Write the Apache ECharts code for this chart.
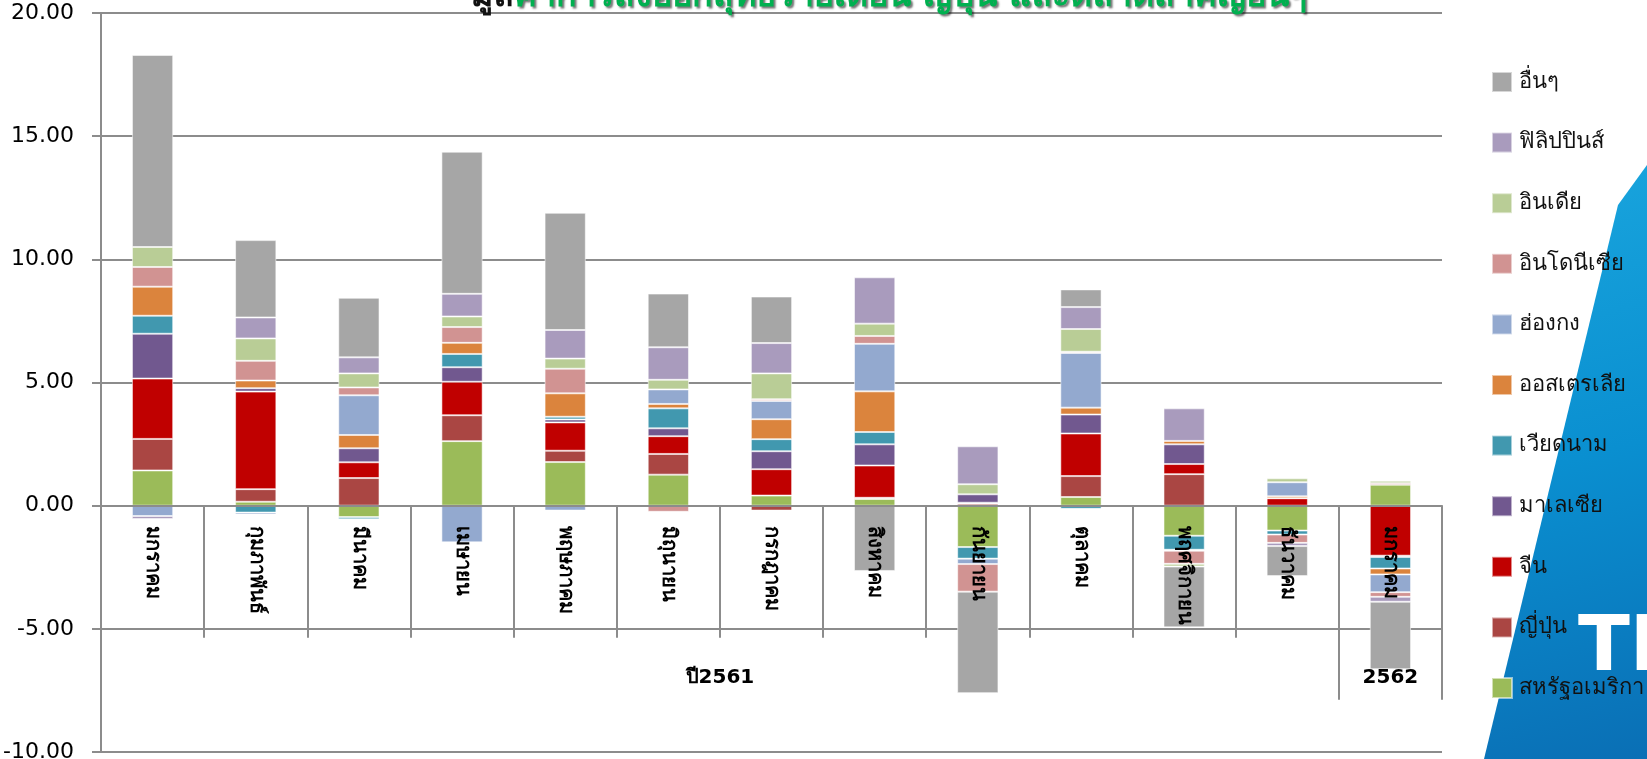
<!DOCTYPE html>
<html>
<head>
<meta charset="utf-8">
<script src="https://cdn.jsdelivr.net/npm/echarts@6/dist/echarts.min.js"></script>
<style>
html,body{margin:0;padding:0;background:#fff;}
#chart{width:1647px;height:759px;}
</style>
</head>
<body>
<div id="chart"></div>
<script>
// ---- data ----
const categories = ['มกราคม','กุมภาพันธ์','มีนาคม','เมษายน','พฤษภาคม','มิถุนายน','กรกฎาคม','สิงหาคม','กันยายน','ตุลาคม','พฤศจิกายน','ธันวาคม','มกราคม'];
const groupLabels = ['ปี2561', '2562'];
const groupSpans = [12, 1];
const yTicks = { min: -10, max: 20, interval: 5 };

const usa         = [1.43, 0.16, -0.46, 2.62, 1.77, 1.26, 0.41, 0.27, -1.68, 0.35, -1.22, -1.01, 0.85];
const japan       = [1.28, 0.51, 1.12, 1.05, 0.46, 0.84, -0.20, 0.05, 0.08, 0.85, 1.28, 0.00, 0.06];
const china       = [2.45, 3.96, 0.64, 1.36, 1.15, 0.72, 1.07, 1.31, 0.04, 1.73, 0.41, 0.30, -2.03];
const malaysia    = [1.82, 0.14, 0.57, 0.59, 0.12, 0.32, 0.73, 0.86, 0.34, 0.77, 0.80, 0.00, -0.05];
const vietnam     = [0.73, -0.28, -0.09, 0.54, 0.11, 0.81, 0.49, 0.50, -0.47, -0.13, -0.57, -0.16, -0.47];
const australia   = [1.18, 0.31, 0.54, 0.45, 0.95, 0.18, 0.81, 1.65, 0.00, 0.28, 0.14, 0.08, -0.24];
const hongkong    = [-0.42, -0.08, 1.61, -1.49, -0.20, 0.59, 0.74, 1.93, -0.22, 2.22, -0.04, 0.57, -0.72];
const indonesia   = [0.80, 0.80, 0.32, 0.64, 1.00, -0.25, 0.07, 0.32, -1.12, 0.05, -0.53, -0.34, -0.19];
const india       = [0.81, 0.91, 0.57, 0.43, 0.41, 0.39, 1.05, 0.50, 0.41, 0.92, -0.11, 0.16, 0.10];
const philippines = [-0.12, 0.85, 0.65, 0.92, 1.16, 1.32, 1.23, 1.88, 1.54, 0.89, 1.32, -0.13, -0.20];
const others      = [7.80, 3.14, 2.42, 5.77, 4.76, 2.18, 1.89, -2.65, -4.12, 0.72, -2.47, -1.22, -2.74];

const seriesNames = ['สหรัฐอเมริกา','ญี่ปุ่น','จีน','มาเลเซีย','เวียดนาม','ออสเตรเลีย','ฮ่องกง','อินโดนีเซีย','อินเดีย','ฟิลิปปินส์','อื่นๆ'];
const seriesData  = [usa, japan, china, malaysia, vietnam, australia, hongkong, indonesia, india, philippines, others];
const seriesColors = ['#9BBB59','#AA4643','#C00000','#71588F','#4198AF','#DB843D','#93A9CF','#D19392','#B9CD96','#A99BBD','#A6A6A6'];

// ---- chart ----
const W = 1647, H = 759;
const chart = echarts.init(document.getElementById('chart'), null, {renderer:'canvas'});
const gridLine = '#8c8c8c';

let acc = 0; const groupBounds = [0]; const groupCenters = [];
groupSpans.forEach(s => { groupCenters.push(acc + s / 2); acc += s; groupBounds.push(acc); });

const gLeft = 101, gRight = 205, gTop = 13, gBottom = 7;
const plotH = H - gTop - gBottom;
const zeroBottom = gBottom + plotH * (0 - yTicks.min) / (yTicks.max - yTicks.min);

const series = seriesNames.map((n, i) => ({
  name: n,
  type: 'bar',
  stack: 'total',
  xAxisIndex: 0,
  yAxisIndex: 0,
  barWidth: '40%',
  itemStyle: { color: seriesColors[i], borderColor: 'rgba(255,255,255,0.55)', borderWidth: 1 },
  emphasis: { disabled: true },
  data: seriesData[i]
}));

const option = {
  animation: false,
  title: {
    text: '{a|มูล}{b|ค่าการส่งออกสุทธิรายเดือน ญี่ปุ่น และตลาดสำคัญอื่นๆ}',
    left: 466,
    top: -25,
    textStyle: {
      rich: {
        a: { fontSize: 34, fontWeight: 'bold', color: '#111', fontFamily: 'DejaVu Sans' },
        b: { fontSize: 34, fontWeight: 'bold', color: '#00B050', fontFamily: 'DejaVu Sans',
             textShadowColor: 'rgba(0,0,0,0.55)', textShadowOffsetX: 2, textShadowOffsetY: 2, textShadowBlur: 2 }
      }
    }
  },
  legend: {
    orient: 'vertical',
    left: 1486,
    top: 66,
    itemWidth: 20,
    itemHeight: 20,
    itemGap: 38.6,
    icon: 'rect',
    data: seriesNames.slice().reverse(),
    textStyle: { fontSize: 22, color: '#111', lineHeight: 20, padding: [0,0,0,2], fontFamily: 'DejaVu Sans' }
  },
  grid: [
    { left: gLeft, right: gRight, top: gTop, bottom: gBottom, containLabel: false, outerBoundsMode: 'none' },
    { left: gLeft, right: gRight, top: gTop, bottom: zeroBottom, containLabel: false, outerBoundsMode: 'none' }
  ],
  xAxis: [
    {
      gridIndex: 0,
      type: 'category',
      data: categories,
      boundaryGap: true,
      axisLine: { show: false },
      axisTick: { show: false },
      axisLabel: { show: false },
      splitLine: { show: false }
    },
    {
      gridIndex: 1,
      type: 'category',
      data: categories,
      boundaryGap: true,
      position: 'bottom',
      z: 20,
      axisLine: { show: true, onZero: false, lineStyle: { color: gridLine, width: 2 } },
      axisTick: { show: true, interval: 0, length: 132, lineStyle: { color: gridLine, width: 2 } },
      axisLabel: { interval: 0, rotate: -90, margin: 20, fontSize: 20, fontWeight: 'bold', color: '#000', fontFamily: 'DejaVu Sans' },
      splitLine: { show: false }
    },
    {
      gridIndex: 1,
      type: 'value',
      min: 0,
      max: acc,
      position: 'bottom',
      z: 20,
      axisLine: { show: false, onZero: false },
      axisTick: { show: true, customValues: groupBounds, length: 194, lineStyle: { color: gridLine, width: 2 } },
      axisLabel: {
        show: true,
        customValues: groupCenters,
        margin: 162,
        fontSize: 20,
        fontWeight: 'bold',
        color: '#000',
        fontFamily: 'DejaVu Sans',
        formatter: v => { const k = groupCenters.findIndex(c => Math.abs(c - v) < 1e-6); return k >= 0 ? groupLabels[k] : ''; }
      },
      splitLine: { show: false }
    }
  ],
  yAxis: [
    {
      gridIndex: 0,
      type: 'value',
      min: yTicks.min,
      max: yTicks.max,
      interval: yTicks.interval,
      axisLine: { show: true, onZero: false, lineStyle: { color: gridLine, width: 2 } },
      axisTick: { show: true, length: 9, lineStyle: { color: gridLine, width: 2 } },
      axisLabel: { margin: 27, fontSize: 22, color: '#000', fontFamily: 'DejaVu Sans', formatter: v => v.toFixed(2) },
      splitLine: { show: true, lineStyle: { color: gridLine, width: 2 } }
    },
    {
      gridIndex: 1,
      type: 'value',
      min: 0,
      max: yTicks.max,
      show: false
    }
  ],
  graphic: [
    {
      type: 'polygon',
      z: -10,
      silent: true,
      shape: { points: [[1647,165],[1618,205],[1484,759],[1647,759]] },
      style: {
        fill: { type: 'linear', x: 0, y: 0, x2: 1, y2: 1, colorStops: [
          { offset: 0, color: '#1aa6de' }, { offset: 0.5, color: '#0a8fd0' }, { offset: 1, color: '#0a6fb5' } ] }
      }
    },
    {
      type: 'text',
      z: -5,
      silent: true,
      left: 1578,
      top: 612,
      style: { text: 'TI', fill: '#ffffff', font: 'bold 76px "DejaVu Sans"' }
    }
  ],
  series: series
};
chart.setOption(option);
</script>
</body>
</html>
